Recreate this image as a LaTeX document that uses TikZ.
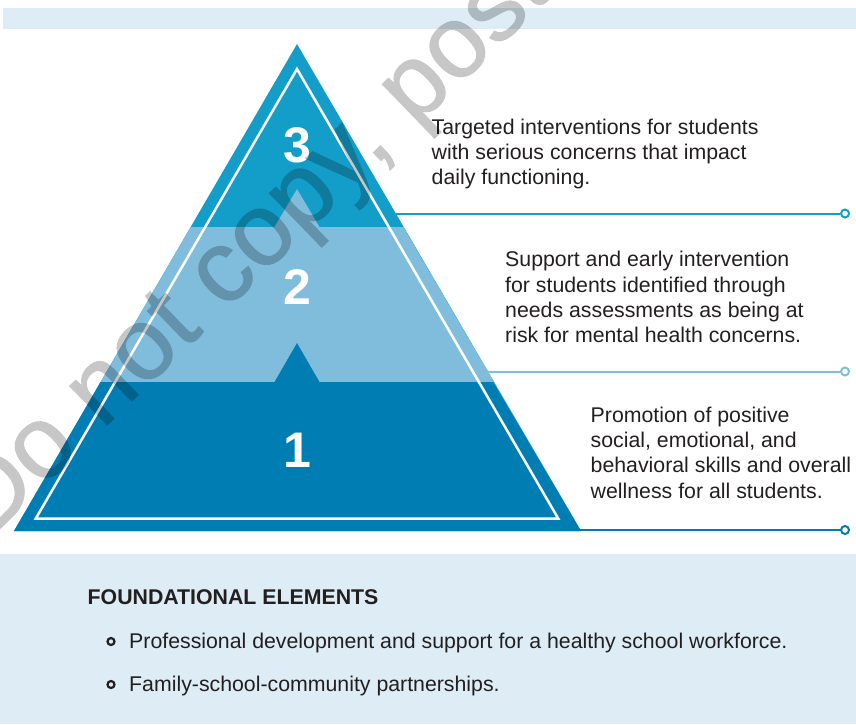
\documentclass[tikz,border=0pt]{standalone}
\usepackage{fontspec}
\setmainfont{Liberation Sans}
\newfontfamily\markfont[FakeBold=1.1]{Liberation Sans}
\usetikzlibrary{positioning}
\definecolor{tierthree}{HTML}{139DC9}
\definecolor{tiertwo}{HTML}{80BDDD}
\definecolor{tierone}{HTML}{007DB2}
\definecolor{panel}{HTML}{DDECF5}
\definecolor{ink}{HTML}{231F20}

\begin{document}
\begin{tikzpicture}[x=1pt,y=-1pt]
\tikzstyle{tiernum}=[text=white,inner sep=0pt,
font=\fontsize{50}{50}\selectfont\bfseries]
\tikzstyle{tiertext}=[anchor=north west,align=left,inner sep=0pt,
text=ink,font=\fontsize{21.3}{25.4}\selectfont]
\tikzstyle{listtext}=[anchor=base west,inner sep=0pt,
text=ink,font=\fontsize{21.3}{25}\selectfont]
\tikzstyle{endcircle}=[circle,draw,fill=white,line width=2pt,
inner sep=0pt,minimum size=8pt]
\tikzstyle{bullet}=[circle,draw=ink,line width=2.2pt,
inner sep=0pt,minimum size=7pt]

\useasboundingbox (0,0) rectangle (856,724);
\fill[panel] (3,8) rectangle (856,29);
\fill[panel] (0,554) rectangle (856,724);

% pyramid, filled top down
\fill[tierthree] (297,44) -- (581,531) -- (14,531) -- cycle;
\fill[tiertwo] (190.7,227) -- (274.5,227) -- (297,189) -- (319.5,227)
  -- (403.3,227) -- (581,531) -- (14,531) -- cycle;
\fill[tierone] (100.6,382) -- (274.5,382) -- (297,343) -- (319.5,382)
  -- (493.4,382) -- (581,531) -- (14,531) -- cycle;
\draw[white,line width=2.5pt] (297,69) -- (558.2,518.5) -- (35.8,518.5) -- cycle;

\node[tiernum] (n3) at (297,145.5) {3};
\node[tiernum] (n2) at (297,287.5) {2};
\node[tiernum] (n1) at (297,450) {1};

\coordinate (e3) at (395.5,213.5);
\coordinate (e2) at (487,371.5);
\coordinate (e1) at (579,530);
\node[endcircle,draw=tierthree] (c3) at (845,213.5) {};
\node[endcircle,draw=tiertwo] (c2) at (845,371.5) {};
\node[endcircle,draw=tierone] (c1) at (845,530) {};
\draw[tierthree,line width=2pt] (e3) -- (c3);
\draw[tiertwo,line width=2pt] (e2) -- (c2);
\draw[tierone,line width=2pt] (e1) -- (c1);

\node[tiertext] (t3) at (431.5,118.5) {Targeted interventions for students\\
with serious concerns that impact\\daily functioning.};
\node[tiertext] (t2) at (505,251) {Support and early intervention\\
for students identified through\\needs assessments as being at\\
risk for mental health concerns.};
\node[tiertext] (t1) at (590.5,406.5) {Promotion of positive\\
social, emotional, and\\behavioral skills and overall\\
wellness for all students.};

% foundational elements
\node[listtext,font=\fontsize{21.3}{25}\selectfont\bfseries] (head) at (87.5,604) {FOUNDATIONAL ELEMENTS};
\node[bullet] (b1) at (111,641.5) {};
\node[bullet] (b2) at (111,684.5) {};
\node[listtext] (f1) at (129,648.3) {Professional development and support for a healthy school workforce.};
\node[listtext] (f2) at (129,691) {Family-school-community partnerships.};

\begin{scope}[transparency group,opacity=0.22]
\clip (0,0) rectangle (856,724);
\node[anchor=base west,rotate=44,inner sep=0pt,text=black,
font=\fontsize{102}{102}\markfont] (mark) at (-12,540) {Do not copy, post, or distribute};
\end{scope}
\end{tikzpicture}
\end{document}
